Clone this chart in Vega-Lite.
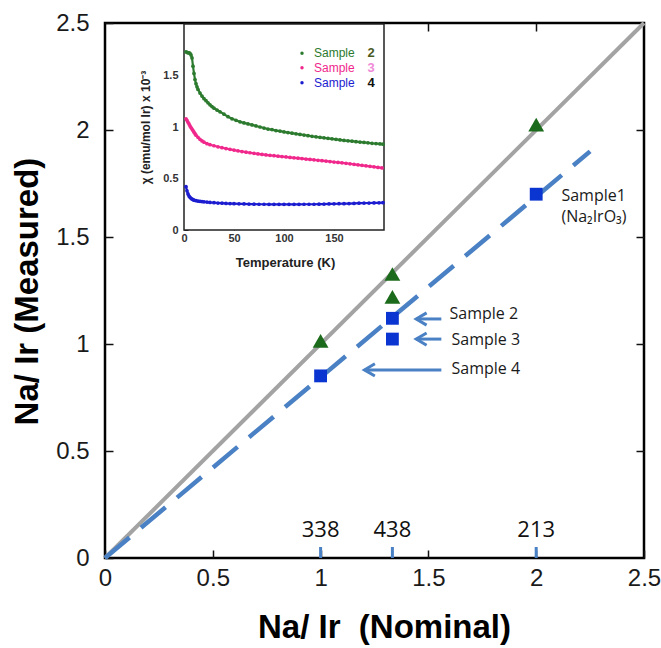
{
"$schema": "https://vega.github.io/schema/vega-lite/v6.json",
"width": 539, "height": 535,
"autosize": {"type": "none"},
"padding": {"left": 105, "top": 23, "right": 17, "bottom": 90},
"background": "white",
"config": {"font": "Liberation Sans", "view": {"stroke": "#000", "strokeWidth": 2.5}, "axis": {"grid": false}},
"datasets": {
"diag": [{"x": 0, "y": 0}, {"x": 2.5, "y": 2.5}],
"fit": [{"x": 0, "y": 0}, {"x": 2.25, "y": 1.9}],
"tri": [{"x": 1, "y": 1.015}, {"x": 1.333, "y": 1.327}, {"x": 1.333, "y": 1.22}, {"x": 2, "y": 2.025}],
"sq": [{"x": 1, "y": 0.851}, {"x": 1.333, "y": 1.12}, {"x": 1.333, "y": 1.023}, {"x": 2, "y": 1.70}],
"arrows": [{"x": 1.56, "x2": 1.444, "y": 1.117}, {"x": 1.56, "x2": 1.444, "y": 1.023}, {"x": 1.56, "x2": 1.204, "y": 0.879}],
"notes": [{"x": 1.598, "y": 1.14, "label": "Sample 2"}, {"x": 1.607, "y": 1.018, "label": "Sample 3"}, {"x": 1.607, "y": 0.882, "label": "Sample 4"}, {"x": 2.117, "y": 1.693, "label": "Sample1"}, {"x": 2.117, "y": 1.594, "label": "(Na₂IrO₃)"}],
"comp": [{"x": 1, "y": 0, "label": "338"}, {"x": 1.333, "y": 0, "label": "438"}, {"x": 2, "y": 0, "label": "213"}],
"frame": [{"T": 0, "T2": 200, "chi": 0, "chi2": 2}],
"leg": [{"s": "2", "T": 118, "chi": 1.715}, {"s": "3", "T": 118, "chi": 1.575}, {"s": "4", "T": 118, "chi": 1.43}],
"chi": [
{"s":"2","T":2,"chi":1.73},{"s":"2","T":3,"chi":1.725},{"s":"2","T":4,"chi":1.72},{"s":"2","T":5,"chi":1.72},{"s":"2","T":6,"chi":1.715},{"s":"2","T":7,"chi":1.70},{"s":"2","T":8,"chi":1.67},{"s":"2","T":9,"chi":1.59},{"s":"2","T":10,"chi":1.52},{"s":"2","T":11,"chi":1.46},{"s":"2","T":12,"chi":1.42},{"s":"2","T":13,"chi":1.39},{"s":"2","T":14,"chi":1.365},{"s":"2","T":16,"chi":1.33},{"s":"2","T":18,"chi":1.30},{"s":"2","T":20,"chi":1.275},{"s":"2","T":22,"chi":1.255},{"s":"2","T":24,"chi":1.235},{"s":"2","T":26,"chi":1.215},{"s":"2","T":28,"chi":1.198},{"s":"2","T":30,"chi":1.183},{"s":"2","T":33,"chi":1.165},{"s":"2","T":36,"chi":1.148},{"s":"2","T":40,"chi":1.125},{"s":"2","T":44,"chi":1.10},{"s":"2","T":48,"chi":1.08},{"s":"2","T":52,"chi":1.065},{"s":"2","T":56,"chi":1.05},{"s":"2","T":60,"chi":1.04},{"s":"2","T":64,"chi":1.03},{"s":"2","T":68,"chi":1.02},{"s":"2","T":72,"chi":1.01},{"s":"2","T":76,"chi":1.0},{"s":"2","T":80,"chi":0.99},{"s":"2","T":84,"chi":0.98},{"s":"2","T":88,"chi":0.975},{"s":"2","T":92,"chi":0.965},{"s":"2","T":96,"chi":0.96},{"s":"2","T":100,"chi":0.952},{"s":"2","T":104,"chi":0.946},{"s":"2","T":108,"chi":0.94},{"s":"2","T":112,"chi":0.934},{"s":"2","T":116,"chi":0.928},{"s":"2","T":120,"chi":0.922},{"s":"2","T":124,"chi":0.916},{"s":"2","T":128,"chi":0.91},{"s":"2","T":132,"chi":0.905},{"s":"2","T":136,"chi":0.9},{"s":"2","T":140,"chi":0.895},{"s":"2","T":144,"chi":0.89},{"s":"2","T":148,"chi":0.885},{"s":"2","T":152,"chi":0.88},{"s":"2","T":156,"chi":0.875},{"s":"2","T":160,"chi":0.87},{"s":"2","T":164,"chi":0.866},{"s":"2","T":168,"chi":0.862},{"s":"2","T":172,"chi":0.858},{"s":"2","T":176,"chi":0.854},{"s":"2","T":180,"chi":0.85},{"s":"2","T":184,"chi":0.846},{"s":"2","T":188,"chi":0.842},{"s":"2","T":192,"chi":0.839},{"s":"2","T":196,"chi":0.836},{"s":"2","T":199,"chi":0.833},
{"s":"3","T":2,"chi":1.08},{"s":"3","T":3,"chi":1.065},{"s":"3","T":4,"chi":1.045},{"s":"3","T":5,"chi":1.03},{"s":"3","T":6,"chi":1.01},{"s":"3","T":7,"chi":0.995},{"s":"3","T":8,"chi":0.98},{"s":"3","T":9,"chi":0.965},{"s":"3","T":10,"chi":0.95},{"s":"3","T":11,"chi":0.935},{"s":"3","T":12,"chi":0.92},{"s":"3","T":14,"chi":0.90},{"s":"3","T":16,"chi":0.88},{"s":"3","T":18,"chi":0.865},{"s":"3","T":20,"chi":0.852},{"s":"3","T":23,"chi":0.838},{"s":"3","T":26,"chi":0.828},{"s":"3","T":30,"chi":0.818},{"s":"3","T":34,"chi":0.808},{"s":"3","T":38,"chi":0.799},{"s":"3","T":42,"chi":0.791},{"s":"3","T":46,"chi":0.783},{"s":"3","T":50,"chi":0.776},{"s":"3","T":54,"chi":0.769},{"s":"3","T":58,"chi":0.762},{"s":"3","T":62,"chi":0.756},{"s":"3","T":66,"chi":0.75},{"s":"3","T":70,"chi":0.744},{"s":"3","T":74,"chi":0.739},{"s":"3","T":78,"chi":0.734},{"s":"3","T":82,"chi":0.729},{"s":"3","T":86,"chi":0.725},{"s":"3","T":90,"chi":0.721},{"s":"3","T":94,"chi":0.717},{"s":"3","T":98,"chi":0.713},{"s":"3","T":102,"chi":0.709},{"s":"3","T":106,"chi":0.705},{"s":"3","T":110,"chi":0.701},{"s":"3","T":114,"chi":0.697},{"s":"3","T":118,"chi":0.693},{"s":"3","T":122,"chi":0.689},{"s":"3","T":126,"chi":0.685},{"s":"3","T":130,"chi":0.681},{"s":"3","T":134,"chi":0.677},{"s":"3","T":138,"chi":0.673},{"s":"3","T":142,"chi":0.669},{"s":"3","T":146,"chi":0.665},{"s":"3","T":150,"chi":0.66},{"s":"3","T":154,"chi":0.656},{"s":"3","T":158,"chi":0.652},{"s":"3","T":162,"chi":0.648},{"s":"3","T":166,"chi":0.643},{"s":"3","T":170,"chi":0.638},{"s":"3","T":174,"chi":0.633},{"s":"3","T":178,"chi":0.628},{"s":"3","T":182,"chi":0.623},{"s":"3","T":186,"chi":0.618},{"s":"3","T":190,"chi":0.613},{"s":"3","T":194,"chi":0.608},{"s":"3","T":198,"chi":0.603},
{"s":"4","T":2,"chi":0.42},{"s":"4","T":3,"chi":0.38},{"s":"4","T":4,"chi":0.35},{"s":"4","T":5,"chi":0.33},{"s":"4","T":6,"chi":0.318},{"s":"4","T":7,"chi":0.308},{"s":"4","T":8,"chi":0.30},{"s":"4","T":9,"chi":0.295},{"s":"4","T":10,"chi":0.29},{"s":"4","T":12,"chi":0.285},{"s":"4","T":14,"chi":0.281},{"s":"4","T":16,"chi":0.278},{"s":"4","T":18,"chi":0.276},{"s":"4","T":20,"chi":0.274},{"s":"4","T":23,"chi":0.271},{"s":"4","T":26,"chi":0.268},{"s":"4","T":30,"chi":0.265},{"s":"4","T":34,"chi":0.262},{"s":"4","T":38,"chi":0.26},{"s":"4","T":42,"chi":0.258},{"s":"4","T":46,"chi":0.257},{"s":"4","T":50,"chi":0.256},{"s":"4","T":55,"chi":0.254},{"s":"4","T":60,"chi":0.253},{"s":"4","T":65,"chi":0.252},{"s":"4","T":70,"chi":0.251},{"s":"4","T":75,"chi":0.25},{"s":"4","T":80,"chi":0.25},{"s":"4","T":85,"chi":0.249},{"s":"4","T":90,"chi":0.249},{"s":"4","T":95,"chi":0.249},{"s":"4","T":100,"chi":0.249},{"s":"4","T":105,"chi":0.249},{"s":"4","T":110,"chi":0.249},{"s":"4","T":115,"chi":0.249},{"s":"4","T":120,"chi":0.25},{"s":"4","T":125,"chi":0.25},{"s":"4","T":130,"chi":0.25},{"s":"4","T":135,"chi":0.251},{"s":"4","T":140,"chi":0.252},{"s":"4","T":145,"chi":0.253},{"s":"4","T":150,"chi":0.254},{"s":"4","T":155,"chi":0.255},{"s":"4","T":160,"chi":0.256},{"s":"4","T":165,"chi":0.257},{"s":"4","T":170,"chi":0.258},{"s":"4","T":175,"chi":0.26},{"s":"4","T":180,"chi":0.261},{"s":"4","T":185,"chi":0.262},{"s":"4","T":190,"chi":0.263},{"s":"4","T":195,"chi":0.264},{"s":"4","T":199,"chi":0.265}
]
},
"layer": [
{
"data": {"name": "diag"},
"mark": {"type": "line", "color": "#a3a3a3", "strokeWidth": 4, "strokeCap": "butt"},
"encoding": {
"x": {"field": "x", "type": "quantitative", "scale": {"domain": [0, 2.5], "nice": false, "zero": false},
"axis": {"orient": "top", "values": [0.5, 1, 1.5, 2], "labels": false, "domain": false, "title": null, "tickSize": -8, "tickWidth": 1.5, "tickColor": "#111"}},
"y": {"field": "y", "type": "quantitative", "scale": {"domain": [0, 2.5], "nice": false, "zero": false},
"axis": {"orient": "right", "values": [0.5, 1, 1.5, 2], "labels": false, "domain": false, "title": null, "tickSize": -8, "tickWidth": 1.5, "tickColor": "#111"}}
}
},
{
"encoding": {
"x": {"field": "x", "type": "quantitative", "scale": {"domain": [0, 2.5], "nice": false, "zero": false},
"axis": {"orient": "bottom", "values": [0, 0.5, 1, 1.5, 2, 2.5], "format": "~g", "domain": false, "grid": false, "tickSize": -8, "tickWidth": 1.5, "tickColor": "#111", "labelFont": "Liberation Sans", "labelFontSize": 24, "labelColor": "#1a1a1a", "labelPadding": 16, "labelFlush": false, "labelOverlap": false, "title": "Na/ Ir \u00a0(Nominal)", "titleFont": "Liberation Sans", "titleFontSize": 33, "titleFontWeight": "bold", "titleColor": "#000", "titleX": 279, "titleY": 79, "titleBaseline": "alphabetic", "titleAlign": "center"}},
"y": {"field": "y", "type": "quantitative", "scale": {"domain": [0, 2.5], "nice": false, "zero": false},
"axis": {"orient": "left", "values": [0, 0.5, 1, 1.5, 2, 2.5], "format": "~g", "domain": false, "grid": false, "tickSize": -8, "tickWidth": 1.5, "tickColor": "#111", "labelFont": "Liberation Sans", "labelFontSize": 24, "labelColor": "#1a1a1a", "labelPadding": 24, "labelFlush": false, "labelOverlap": false, "title": "Na/ Ir (Measured)", "titleFont": "Liberation Sans", "titleFontSize": 33, "titleFontWeight": "bold", "titleColor": "#000", "titleX": -68, "titleY": 268, "titleBaseline": "alphabetic", "titleAlign": "center", "titleAngle": 270}}
},
"layer": [
{"data": {"name": "fit"}, "mark": {"type": "line", "color": "#4a80c4", "strokeWidth": 4.5, "strokeDash": [32, 15]}, "encoding": {}},
{"data": {"name": "tri"}, "mark": {"type": "point", "shape": "triangle-up", "filled": true, "size": 250, "color": "#1c6b1c", "opacity": 1}, "encoding": {}},
{"data": {"name": "sq"}, "mark": {"type": "square", "size": 165, "color": "#0a35d0", "opacity": 1}, "encoding": {}},
{"data": {"name": "arrows"}, "mark": {"type": "rule", "color": "#4a80c4", "strokeWidth": 3}, "encoding": {"x2": {"field": "x2"}}},
{"data": {"name": "arrows"}, "mark": {"type": "point", "shape": "M0.7,-1L-1,0L0.7,1", "filled": false, "size": 150, "color": "#4a80c4", "strokeWidth": 3, "xOffset": 6, "opacity": 1}, "encoding": {"x": {"field": "x2", "type": "quantitative"}}},
{"data": {"name": "notes"}, "mark": {"type": "text", "font": "Open Sans", "fontSize": 16, "align": "left", "baseline": "middle", "color": "#1a1a1a"}, "encoding": {"text": {"field": "label", "type": "nominal"}}},
{"data": {"name": "comp"}, "mark": {"type": "tick", "orient": "vertical", "size": 11, "thickness": 3, "color": "#4a80c4", "yOffset": -5.5, "opacity": 1}, "encoding": {}},
{"data": {"name": "comp"}, "mark": {"type": "text", "font": "Open Sans", "fontSize": 22, "dy": -28, "baseline": "middle", "align": "center", "color": "#111"}, "encoding": {"text": {"field": "label", "type": "nominal"}}}
]
},
{
"encoding": {
"x": {"field": "T", "type": "quantitative", "scale": {"domain": [0, 200], "range": [79, 279], "nice": false, "zero": false},
"axis": {"orient": "bottom", "offset": -328, "values": [0, 50, 100, 150], "format": "d", "domain": false, "grid": false, "tickSize": -4, "tickWidth": 1, "tickColor": "#222", "labelFontSize": 11, "labelFontWeight": "bold", "labelColor": "#333", "labelPadding": 6, "labelFlush": false, "labelOverlap": false, "title": "Temperature (K)", "titleFontSize": 13, "titleFontWeight": "bold", "titleColor": "#222", "titleX": 180, "titleY": 36, "titleBaseline": "alphabetic", "titleAlign": "center"}},
"y": {"field": "chi", "type": "quantitative", "scale": {"domain": [0, 2], "range": [207, 1], "nice": false, "zero": false},
"axis": {"orient": "left", "offset": -79, "values": [0, 0.5, 1, 1.5], "format": "~g", "domain": false, "grid": false, "tickSize": -4, "tickWidth": 1, "tickColor": "#222", "labelFontSize": 11, "labelFontWeight": "bold", "labelColor": "#333", "labelPadding": 10, "labelFlush": false, "labelOverlap": false, "title": "χ (emu/mol Ir) x 10⁻³", "titleFontSize": 12, "titleFontWeight": "bold", "titleColor": "#222", "titleX": -35, "titleY": 104, "titleBaseline": "alphabetic", "titleAlign": "center", "titleAngle": 270}}
},
"layer": [
{"data": {"name": "frame"}, "mark": {"type": "rect", "fill": "white", "stroke": "#222", "strokeWidth": 1.5}, "encoding": {"x2": {"field": "T2"}, "y2": {"field": "chi2"}}},
{"data": {"name": "chi"}, "mark": {"type": "line", "strokeWidth": 2.2}, "encoding": {"color": {"field": "s", "type": "nominal", "scale": {"domain": ["2", "3", "4"], "range": ["#2b7a2e", "#f0288c", "#1c1cd0"]}, "legend": null}}},
{"data": {"name": "chi"}, "mark": {"type": "circle", "size": 14, "opacity": 1}, "encoding": {"color": {"field": "s", "type": "nominal", "scale": {"domain": ["2", "3", "4"], "range": ["#2b7a2e", "#f0288c", "#1c1cd0"]}, "legend": null}}},
{"data": {"name": "leg"}, "mark": {"type": "circle", "size": 12, "opacity": 1}, "encoding": {"color": {"field": "s", "type": "nominal", "legend": null}}},
{"data": {"name": "leg"}, "mark": {"type": "text", "fontSize": 12, "align": "left", "baseline": "middle", "dx": 12}, "encoding": {"text": {"value": "Sample"}, "color": {"field": "s", "type": "nominal", "legend": null}}},
{"data": {"name": "leg"}, "mark": {"type": "text", "fontSize": 13, "fontWeight": "bold", "align": "center", "baseline": "middle", "dx": 69}, "encoding": {"text": {"field": "s", "type": "nominal"}, "fill": {"field": "s", "type": "nominal", "scale": {"domain": ["2", "3", "4"], "range": ["#4a5a1e", "#f08ad8", "#111111"]}, "legend": null}}}
]
}
],
"resolve": {"scale": {"x": "independent", "y": "independent"}}
}
